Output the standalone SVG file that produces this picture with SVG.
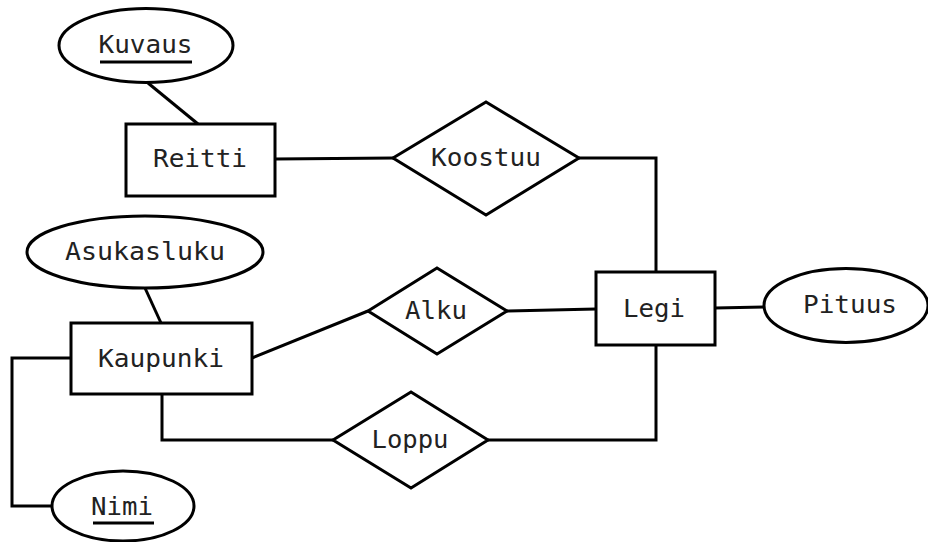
<svg xmlns="http://www.w3.org/2000/svg" width="928" height="542" viewBox="0 0 928 542">
<style>
.s{fill:#fff;stroke:#000;stroke-width:3}
.c{fill:none;stroke:#000;stroke-width:3}
.t{font-family:"DejaVu Sans Mono","Liberation Mono",monospace;font-size:25px;fill:#222;text-anchor:middle}
.u{stroke:#000;stroke-width:3}
</style>
<rect width="928" height="542" fill="#fff"/>
<g id="connectors">
<line class="c" x1="148" y1="83" x2="198" y2="124"/>
<line class="c" x1="275" y1="159" x2="394" y2="158"/>
<polyline class="c" points="579,158 656,158 656,272"/>
<line class="c" x1="507" y1="311" x2="596" y2="309"/>
<line class="c" x1="252" y1="358" x2="368" y2="311"/>
<line class="c" x1="145" y1="288" x2="161" y2="323"/>
<polyline class="c" points="71,358 12,358 12,506 52,506"/>
<polyline class="c" points="162,394 162,440 333,440"/>
<polyline class="c" points="488,440 656,440 656,345"/>
<line class="c" x1="715" y1="308" x2="765" y2="307"/>
</g>
<g id="kuvaus">
<ellipse class="s" cx="146" cy="45.5" rx="87" ry="37"/>
<text class="t" x="145.5" y="53" textLength="94" lengthAdjust="spacingAndGlyphs">Kuvaus</text>
<line class="u" x1="100" y1="62" x2="192" y2="62"/>
</g>
<g id="reitti">
<rect class="s" x="126" y="124" width="149" height="72"/>
<text class="t" x="200" y="167" textLength="94" lengthAdjust="spacingAndGlyphs">Reitti</text>
</g>
<g id="koostuu">
<polygon class="s" points="393,158 486,102 579,158 486,215"/>
<text class="t" x="486" y="166" textLength="110" lengthAdjust="spacingAndGlyphs">Koostuu</text>
</g>
<g id="asukasluku">
<ellipse class="s" cx="145" cy="252" rx="118" ry="36"/>
<text class="t" x="145" y="260" textLength="160" lengthAdjust="spacingAndGlyphs">Asukasluku</text>
</g>
<g id="kaupunki">
<rect class="s" x="71" y="323" width="181" height="71"/>
<text class="t" x="161" y="367" textLength="126" lengthAdjust="spacingAndGlyphs">Kaupunki</text>
</g>
<g id="alku">
<polygon class="s" points="368,311 437,268 507,311 437,354"/>
<text class="t" x="436" y="319" textLength="62" lengthAdjust="spacingAndGlyphs">Alku</text>
</g>
<g id="legi">
<rect class="s" x="596" y="272" width="119" height="73"/>
<text class="t" x="654" y="317" textLength="62" lengthAdjust="spacingAndGlyphs">Legi</text>
</g>
<g id="pituus">
<ellipse class="s" cx="846" cy="305.5" rx="82" ry="37"/>
<text class="t" x="850" y="313" textLength="94" lengthAdjust="spacingAndGlyphs">Pituus</text>
</g>
<g id="loppu">
<polygon class="s" points="333,440 411,392 488,440 411,488"/>
<text class="t" x="410" y="448" textLength="77" lengthAdjust="spacingAndGlyphs">Loppu</text>
</g>
<g id="nimi">
<ellipse class="s" cx="123" cy="506" rx="71" ry="35"/>
<text class="t" x="122" y="515" textLength="62" lengthAdjust="spacingAndGlyphs">Nimi</text>
<line class="u" x1="93" y1="523" x2="154" y2="523"/>
</g>
</svg>
